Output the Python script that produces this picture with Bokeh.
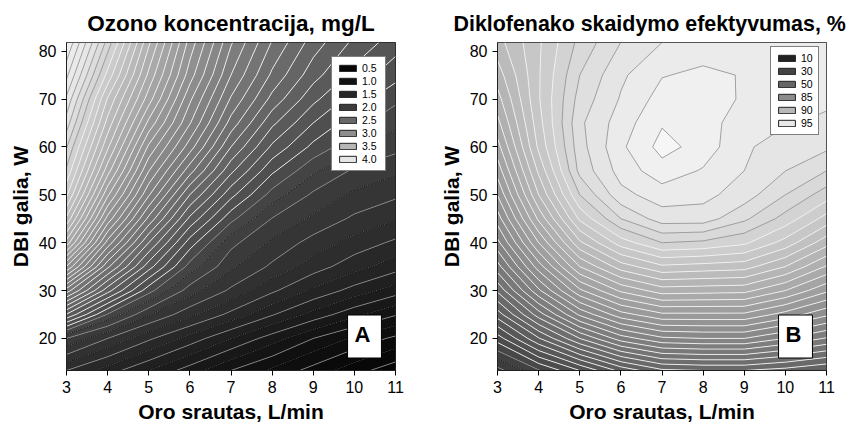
import numpy as np
from bokeh.plotting import figure
from bokeh.layouts import row
from bokeh.models import Range1d, FixedTicker, Legend, LegendItem, Label
from bokeh.embed import file_html
from bokeh.resources import INLINE

# ---------------- data ----------------
flow = [3, 4, 5, 6, 7, 8, 9, 10, 11]                                   # Oro srautas, L/min
power = [13.3, 20, 25, 30, 35, 40, 45, 50, 55, 60, 65, 70, 75, 81.8]  # DBI galia, W

# Ozono koncentracija, mg/L  (rows = power, cols = flow)
ozone = [
    [1.60, 1.45, 1.30, 1.15, 1.00, 0.85, 0.70, 0.55, 0.42],
    [2.00, 1.80, 1.62, 1.46, 1.30, 1.15, 1.00, 0.85, 0.72],
    [2.37, 2.12, 1.91, 1.73, 1.57, 1.41, 1.265, 1.13, 1.01],
    [2.72, 2.40, 2.15, 1.95, 1.78, 1.62, 1.48, 1.36, 1.25],
    [3.06, 2.64, 2.34, 2.10, 1.92, 1.78, 1.65, 1.54, 1.445],
    [3.35, 2.85, 2.50, 2.22, 2.02, 1.88, 1.76, 1.66, 1.58],
    [3.55, 3.04, 2.67, 2.36, 2.145, 1.995, 1.88, 1.78, 1.71],
    [3.70, 3.20, 2.82, 2.50, 2.27, 2.10, 1.98, 1.88, 1.82],
    [3.80, 3.34, 2.94, 2.65, 2.39, 2.20, 2.075, 1.98, 1.92],
    [3.88, 3.45, 3.05, 2.78, 2.50, 2.30, 2.17, 2.08, 2.02],
    [3.97, 3.54, 3.17, 2.88, 2.60, 2.39, 2.25, 2.15, 2.08],
    [4.05, 3.62, 3.28, 2.95, 2.68, 2.48, 2.33, 2.22, 2.14],
    [4.14, 3.73, 3.36, 3.03, 2.75, 2.55, 2.40, 2.29, 2.21],
    [4.25, 3.85, 3.45, 3.10, 2.82, 2.62, 2.47, 2.36, 2.28],
]

# Diklofenako skaidymo efektyvumas, %  (rows = power, cols = flow)
efficiency = [
    [22.0, 29.67, 36.67, 44.33, 49.33, 50.0, 50.0, 48.67, 46.67],
    [35.0, 46.33, 60.0, 72.5, 79.0, 80.0, 80.0, 75.0, 69.5],
    [45.0, 62.5, 81.0, 86.0, 86.75, 86.75, 86.75, 86.0, 85.13],
    [56.0, 79.0, 86.75, 88.25, 89.06, 89.0, 88.94, 88.13, 87.0],
    [68.0, 85.94, 88.75, 90.31, 91.13, 91.0, 90.88, 90.0, 88.69],
    [78.5, 87.5, 90.5, 92.19, 93.13, 93.0, 92.63, 91.63, 90.25],
    [85.31, 88.88, 92.0, 93.75, 94.69, 94.69, 93.88, 92.88, 91.63],
    [86.28, 90.0, 93.13, 94.81, 95.31, 95.19, 94.69, 93.75, 92.81],
    [87.13, 90.75, 93.94, 95.25, 96.0, 95.56, 95.0, 94.38, 93.75],
    [87.88, 91.38, 94.13, 95.5, 96.47, 96.0, 95.06, 94.81, 94.5],
    [88.56, 91.63, 94.25, 95.31, 96.19, 95.94, 95.25, 95.03, 94.94],
    [89.13, 91.81, 94.0, 95.06, 95.88, 95.88, 95.56, 95.19, 95.06],
    [89.69, 91.81, 93.75, 94.88, 95.59, 95.75, 95.59, 95.25, 95.13],
    [90.38, 91.78, 93.31, 94.38, 95.0, 95.31, 95.38, 95.34, 95.19],
]

x_ticks = [3, 4, 5, 6, 7, 8, 9, 10, 11]
y_ticks = [20, 30, 40, 50, 60, 70, 80]

a_legend_labels = ["0.5", "1.0", "1.5", "2.0", "2.5", "3.0", "3.5", "4.0"]
a_legend_values = [0.5, 1.0, 1.5, 2.0, 2.5, 3.0, 3.5, 4.0]
a_legend_grays = [6, 18, 38, 60, 104, 142, 182, 230]

b_legend_labels = ["10", "30", "50", "85", "90", "95"]
b_legend_values = [10, 30, 50, 85, 90, 95]
b_legend_grays = [34, 68, 102, 140, 184, 232]

# contour levels (thresholds)
a_levels = np.round(np.concatenate([
    np.linspace(0.25, 1.0, 7)[:-1],
    np.linspace(1.0, 2.0, 11)[:-1],
    np.linspace(2.0, 4.4375, 40),
]), 4)
b_levels = np.round(np.concatenate([
    np.linspace(10, 50, 13)[:-1],
    np.linspace(50, 85, 8)[:-1],
    np.linspace(85, 95, 17)[:-1],
    np.linspace(95, 97.5, 5),
]), 4)

FONT = "Liberation Sans"


def hexgray(g):
    g = int(round(max(0, min(255, g))))
    return "#%02x%02x%02x" % (g, g, g)


def build(title, title_size, z, levels, leg_values, leg_grays, leg_labels, lo_ext, hi_ext,
          letter, min_left, min_right, title_align, title_offset, leg_loc, leg_label_w):
    p = figure(frame_width=329, frame_height=328,
               x_range=Range1d(3, 11), y_range=Range1d(13.3, 81.8),
               output_backend="svg", toolbar_location=None,
               min_border_left=min_left, min_border_right=min_right,
               min_border_top=42, min_border_bottom=56,
               background_fill_color="white", border_fill_color="white")
    p.title.text = title
    p.title.align = title_align
    p.title.offset = title_offset
    p.title.standoff = 14
    p.title.text_font = FONT
    p.title.text_font_size = title_size
    p.title.text_font_style = "bold"
    p.title.text_color = "black"

    cv = [lo_ext[0]] + list(leg_values) + [hi_ext[0]]
    cg = [lo_ext[1]] + list(leg_grays) + [hi_ext[1]]

    zarr = np.array(z, dtype=float)
    levels = np.asarray(levels, dtype=float)
    idx = np.arange(len(levels), dtype=float)
    # contour on the level-index scale (monotone transform of the values)
    u = np.interp(zarr, levels, idx)
    xs = np.array(flow, dtype=float)
    ys = np.array(power, dtype=float)
    mids = (levels[:-1] + levels[1:]) / 2.0
    fills = [hexgray(np.interp(m, cv, cg)) for m in mids]
    p.contour(xs, ys, u, idx, fill_color=fills)

    groups = {}
    for i, L in enumerate(levels):
        g = np.interp(L, cv, cg)
        if g >= 212:
            key = "upper"
        elif g >= 72:
            key = "mid"
        else:
            key = "lowa" if i % 2 == 0 else "lowb"
        groups.setdefault(key, []).append(float(i))
    styles = {
        "upper": dict(line_color="#8a8a8a", line_width=0.8),
        "mid": dict(line_color="#f2f2f2", line_width=0.9),
        "lowa": dict(line_color="#8e8e8e", line_width=0.8),
        "lowb": dict(line_color="#000000", line_width=0.9, line_dash="1 1"),
    }
    for key, lv in groups.items():
        p.contour(xs, ys, u, lv, **styles[key])

    # axes
    p.xaxis.ticker = FixedTicker(ticks=x_ticks)
    p.yaxis.ticker = FixedTicker(ticks=y_ticks)
    p.xaxis.axis_label = "Oro srautas, L/min"
    p.yaxis.axis_label = "DBI galia, W"
    for ax in (p.xaxis[0], p.yaxis[0]):
        ax.axis_label_text_font = FONT
        ax.axis_label_text_font_size = "21px"
        ax.axis_label_text_font_style = "bold"
        ax.axis_label_text_color = "black"
        ax.major_label_text_font = FONT
        ax.major_label_text_font_size = "16px"
        ax.major_label_text_color = "black"
        ax.major_tick_in = 0
        ax.major_tick_out = 5
        ax.major_tick_line_color = "black"
        ax.minor_tick_line_color = None
        ax.axis_line_color = "#222222"
        ax.axis_label_standoff = 4
        ax.major_label_standoff = 5
    p.grid.visible = False
    p.outline_line_color = "#222222"
    p.outline_line_width = 1

    # legend (swatches from invisible one-row glyphs)
    items = []
    for lab, g in zip(leg_labels, leg_grays):
        r = p.quad(left=[flow[0]], right=[flow[0]], top=[power[0]], bottom=[power[0]],
                   fill_color=hexgray(g), line_color="#202020", line_width=1)
        r.visible = False
        items.append(LegendItem(label=lab, renderers=[r]))
    leg = Legend(items=items, location=leg_loc, glyph_width=21, glyph_height=8,
                 label_text_font=FONT, label_text_font_size="10.5px",
                 label_text_color="black",
                 label_standoff=4, label_height=8, label_width=leg_label_w, spacing=1,
                 padding=5, margin=0, border_line_color="black",
                 border_line_width=1, background_fill_color="white",
                 background_fill_alpha=1, inactive_fill_alpha=0)
    p.add_layout(leg)

    lab = Label(x=298, y=34, x_units="screen", y_units="screen", text=letter,
                text_align="center", text_baseline="middle", text_font=FONT,
                text_font_size="22px", text_font_style="bold", text_color="black",
                background_fill_color="white", border_line_color="black",
                border_line_width=1, padding=(7, 11, 7, 11))
    p.add_layout(lab)
    return p


pA = build("Ozono koncentracija, mg/L", "22.5px", ozone, a_levels,
           a_legend_values, a_legend_grays, a_legend_labels,
           (0.0, 0), (4.5, 250), "A", 66, 35, "center", 0, (265, 199), 18)
pB = build("Diklofenako skaidymo efektyvumas, %", "21.4px", efficiency, b_levels,
           b_legend_values, b_legend_grays, b_legend_labels,
           (0.0, 17), (97.0, 250), "B", 67, 29, "left", -44, (273, 235), 12)

layout = row(pA, pB)
open("out.html", "w").write(file_html(layout, INLINE))
